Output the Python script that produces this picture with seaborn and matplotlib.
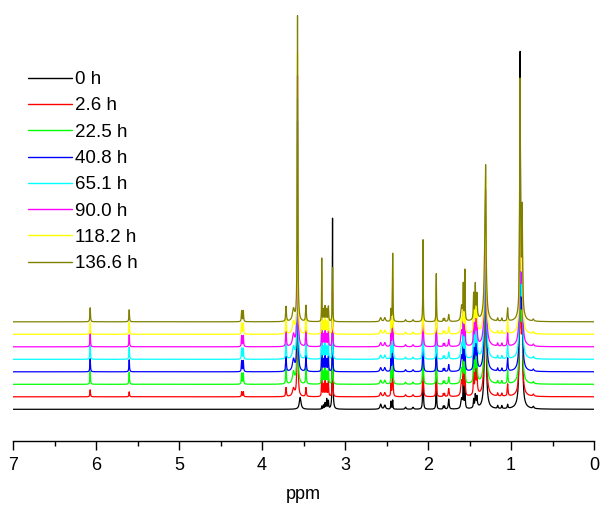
import numpy as np
import pandas as pd
import matplotlib
matplotlib.use("Agg")
import matplotlib.pyplot as plt
import seaborn as sns

# ---------------- data ----------------
labels = ["0 h", "2.6 h", "22.5 h", "40.8 h", "65.1 h", "90.0 h", "118.2 h", "136.6 h"]
colors = ["#000000", "#FF0000", "#00FF00", "#0000FF", "#00FFFF", "#FF00FF", "#FFFF00", "#808000"]

# chemical shifts (ppm) of resolved signals and their half-widths (ppm)
peak_ppm = [6.07, 5.60, 4.245, 4.225, 3.71, 3.62, 3.572, 3.54, 3.47, 3.28,
            3.26, 3.24, 3.22, 3.20, 3.15, 2.57, 2.52, 2.445, 2.425, 2.27,
            2.18, 2.06, 1.90, 1.815, 1.80, 1.75, 1.595, 1.575, 1.555, 1.45,
            1.43, 1.41, 1.42, 1.31, 1.305, 1.16, 1.11, 1.04, 0.89, 0.865,
            0.88, 0.73]
peak_hw = [0.004, 0.004, 0.004, 0.004, 0.005, 0.015, 0.004, 0.012, 0.005, 0.002,
           0.004, 0.004, 0.004, 0.004, 0.003, 0.010, 0.010, 0.004, 0.003, 0.008,
           0.008, 0.003, 0.003, 0.004, 0.004, 0.006, 0.010, 0.004, 0.003, 0.004,
           0.004, 0.004, 0.020, 0.012, 0.004, 0.005, 0.005, 0.005, 0.005, 0.005,
           0.020, 0.008]

# intensities (arbitrary units) for each sample
h_0 = [0, 0, 0, 0, 0, 0, 0, 12, 0, 3,
       4, 6, 10, 8, 191, 5, 4, 8, 9, 2,
       2, 80, 48, 3, 3, 10, 10, 30, 40, 8,
       10, 8, 5, 100, 60, 3, 3, 4, 330, 100,
       30, 2]
h_2_6 = [7, 5, 5, 5, 9, 8, 200, 0, 9, 63,
         12, 15, 12, 15, 60, 4, 4, 12, 68, 2,
         2, 82, 48, 3, 3, 8, 15, 35, 50, 25,
         30, 20, 8, 105, 70, 3, 3, 12, 210, 90,
         25, 2]
h_22_5 = [13, 12, 11, 11, 15, 12, 240, 0, 16, 63,
          12, 15, 12, 15, 55, 4, 4, 12, 68, 2,
          2, 82, 48, 3, 3, 7, 15, 35, 50, 25,
          30, 20, 8, 100, 70, 3, 3, 13, 210, 90,
          25, 2]
h_40_8 = [13, 12, 11, 11, 15, 12, 250, 0, 16, 63,
          12, 15, 12, 15, 55, 4, 4, 12, 68, 2,
          2, 82, 48, 3, 3, 7, 15, 35, 50, 25,
          30, 20, 8, 100, 70, 3, 3, 13, 210, 90,
          25, 2]
h_65_1 = [14, 12, 11, 11, 15, 12, 260, 0, 16, 63,
          12, 15, 12, 15, 55, 4, 4, 12, 68, 2,
          2, 82, 48, 3, 3, 7, 15, 35, 50, 25,
          30, 20, 8, 100, 70, 3, 3, 13, 215, 90,
          25, 2]
h_90_0 = [13, 12, 11, 11, 15, 12, 270, 0, 16, 63,
          12, 15, 12, 15, 55, 4, 4, 12, 68, 2,
          2, 82, 48, 3, 3, 7, 15, 35, 50, 25,
          30, 20, 8, 100, 70, 3, 3, 13, 215, 90,
          25, 2]
h_118_2 = [12, 12, 11, 11, 15, 12, 280, 0, 16, 63,
           12, 15, 12, 15, 54, 4, 4, 12, 68, 2,
           2, 82, 48, 3, 3, 7, 15, 35, 50, 25,
           30, 20, 8, 100, 70, 3, 3, 13, 215, 90,
           25, 2]
h_136_6 = [14, 12, 11, 11, 15, 12, 305, 0, 16, 63,
           12, 15, 12, 15, 54, 4, 4, 12, 68, 2,
           2, 82, 48, 3, 3, 7, 15, 35, 50, 25,
           30, 20, 8, 100, 70, 3, 3, 13, 220, 95,
           25, 2]
heights = [h_0, h_2_6, h_22_5, h_40_8, h_65_1, h_90_0, h_118_2, h_136_6]

# display settings
base0, step = 31.7, 12.5

ppm = np.linspace(0.0, 7.0, 14001)
P = np.array(peak_ppm)[:, None]
G = np.array(peak_hw)[:, None]
shape = G**2 / ((ppm[None, :] - P)**2 + G**2)

frames = []
for i, (lab, h) in enumerate(zip(labels, heights)):
    y = np.array(h) @ shape + base0 + step * i
    frames.append(pd.DataFrame({"ppm": ppm, "I": y, "sample": lab}))
df = pd.concat(frames, ignore_index=True)

# ---------------- plot ----------------
sns.set_theme(style="white")
plt.rcParams["font.family"] = ["Liberation Sans", "DejaVu Sans"]
plt.rcParams["text.color"] = "black"
plt.rcParams["axes.labelcolor"] = "black"
plt.rcParams["xtick.color"] = "black"
plt.rcParams["xtick.labelcolor"] = "black"

fig = plt.figure(figsize=(6.0, 5.09), dpi=100)
ax = fig.add_axes([13/600, 1 - 441/509, 581/600, 431/509])

sns.lineplot(data=df, x="ppm", y="I", hue="sample", hue_order=labels,
             palette=colors, estimator=None, sort=False, linewidth=0.9, ax=ax)

ax.set_xlim(7, 0)
ax.set_ylim(0, 431)
for s in ["left", "top", "right"]:
    ax.spines[s].set_visible(False)
ax.spines["bottom"].set_color("black")
ax.spines["bottom"].set_linewidth(1.0)
ax.set_yticks([])
ax.set_ylabel("")
ax.set_xticks(np.arange(0, 8, 1))
ax.set_xticks(np.arange(0.5, 7, 1), minor=True)
ax.set_xticklabels([str(v) for v in range(0, 8)])
ax.tick_params(axis="x", which="major", direction="out", length=6.3, width=1.0,
               color="black", labelcolor="black", labelsize=13, pad=5, bottom=True)
ax.tick_params(axis="x", which="minor", direction="out", length=3.8, width=1.0,
               color="black", bottom=True)
ax.set_xlabel("ppm", fontsize=13, labelpad=9, color="black")

leg = ax.legend(loc="upper left", bbox_to_anchor=(28/600, 1 - 71/509),
                bbox_transform=fig.transFigure, frameon=False, fontsize=13.5,
                handlelength=2.35, handletextpad=0.17, labelspacing=0.49,
                borderpad=0, borderaxespad=0)
for line in leg.get_lines():
    line.set_linewidth(1.0)
for t in leg.get_texts():
    t.set_color("black")

fig.savefig("out.png", dpi=100)
